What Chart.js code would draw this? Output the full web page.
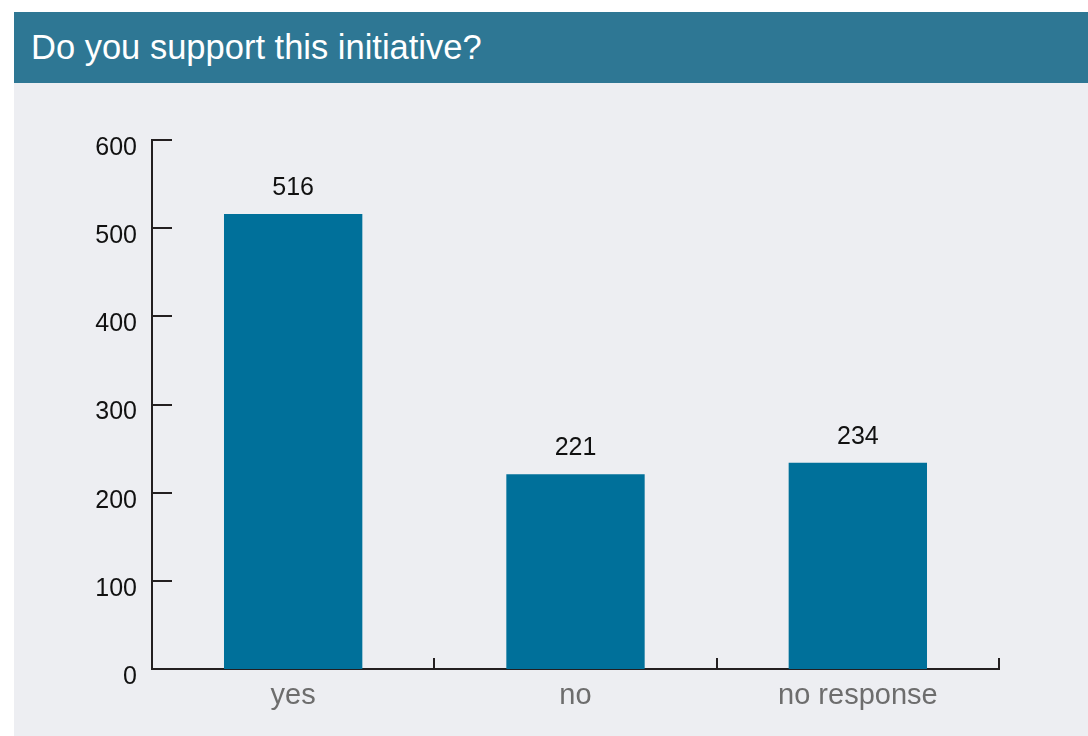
<!DOCTYPE html>
<html>
<head>
<meta charset="utf-8">
<script src="https://cdn.jsdelivr.net/npm/chart.js@4.4.1/dist/chart.umd.min.js"></script>
<style>
  html, body { margin: 0; padding: 0; background: #ffffff; }
  body { width: 1088px; height: 736px; overflow: hidden; font-family: "Liberation Sans", Arial, sans-serif; }
  .box { position: absolute; left: 14px; top: 12px; width: 1074px; height: 724px; }
  .head { height: 71px; background: #2e7794; color: #ffffff; font-size: 34.5px; line-height: 71px; padding-left: 17px; box-sizing: border-box; }
  .panel { position: relative; width: 1074px; height: 653px; background: #edeef2; }
</style>
</head>
<body>
<div class="box">
  <div class="head">Do you support this initiative?</div>
  <div class="panel"><canvas id="poll" width="1074" height="653"></canvas></div>
</div>
<script>
const answers = ['yes', 'no', 'no response'];
const counts = [516, 221, 234];
const yTicks = [0, 100, 200, 300, 400, 500, 600];

const inkColor = '#231f20';
const fontFamily = '"Liberation Sans", Arial, sans-serif';

// short tick marks pointing into the plot, plus the numbers above the bars
const axisMarks = {
  id: 'axisMarks',
  afterDraw(chart) {
    const ctx = chart.ctx;
    const y = chart.scales.y;
    const x = chart.scales.x;
    const area = chart.chartArea;
    ctx.save();
    ctx.strokeStyle = inkColor;
    ctx.lineWidth = 2;
    ctx.beginPath();
    yTicks.forEach(v => {
      if (v === 0) return;
      const py = Math.round(y.getPixelForValue(v));
      ctx.moveTo(area.left, py);
      ctx.lineTo(area.left + 20, py);
    });
    for (let i = 1; i <= answers.length; i++) {
      const px = i < answers.length
        ? (x.getPixelForValue(i - 1) + x.getPixelForValue(i)) / 2
        : area.right;
      ctx.moveTo(Math.round(px), area.bottom);
      ctx.lineTo(Math.round(px), area.bottom - 11);
    }
    ctx.stroke();

    ctx.fillStyle = '#111111';
    ctx.font = '25px ' + fontFamily;
    ctx.textAlign = 'center';
    ctx.textBaseline = 'alphabetic';
    chart.getDatasetMeta(0).data.forEach((bar, i) => {
      ctx.fillText(String(counts[i]), bar.x, bar.y - 19);
    });
    ctx.restore();
  }
};

new Chart(document.getElementById('poll'), {
  type: 'bar',
  data: {
    labels: answers,
    datasets: [{
      data: counts,
      backgroundColor: '#00709a',
      borderWidth: 0,
      barPercentage: 0.49,
      categoryPercentage: 1
    }]
  },
  options: {
    responsive: false,
    animation: false,
    layout: { padding: { top: 57, right: 89, left: 0, bottom: 0 } },
    plugins: { legend: { display: false }, tooltip: { enabled: false } },
    scales: {
      x: {
        grid: { display: false, drawTicks: false },
        border: { display: true, color: inkColor, width: 2 },
        ticks: {
          color: '#6d6d6d',
          padding: 10,
          font: { size: 29, family: fontFamily }
        },
        afterFit: s => { s.height = 67; }
      },
      y: {
        min: 0,
        max: 600,
        afterBuildTicks: s => { s.ticks = yTicks.map(v => ({ value: v })); },
        grid: { display: false, drawTicks: false },
        border: { display: true, color: inkColor, width: 2 },
        ticks: {
          color: '#111111',
          padding: 15,
          labelOffset: 8,
          font: { size: 25, family: fontFamily }
        },
        afterFit: s => { s.width = 138; }
      }
    }
  },
  plugins: [axisMarks]
});
</script>
</body>
</html>
